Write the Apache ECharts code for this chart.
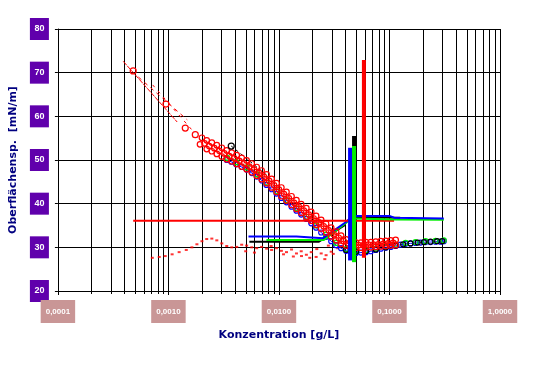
<!DOCTYPE html>
<html><head><meta charset="utf-8">
<script src="https://cdn.jsdelivr.net/npm/echarts@6/dist/echarts.min.js"></script>
<style>html,body{margin:0;padding:0;background:#fff}#c{width:534px;height:365px}</style>
</head><body><div id="c"></div>
<script>
// ---- data (concentration g/L, surface tension mN/m) ----
const xTickLabels = ['0,0001','0,0010','0,0100','0,1000','1,0000'];
const yTicks = [20,30,40,50,60,70,80];
const redEarly = [[0.00048,70.4],[0.00095,62.8],[0.00142,57.3],[0.00175,55.8]];
const redA = [[0.00201,55.1],[0.00222,54.5],[0.00247,54.0],[0.00274,53.4],[0.00304,52.8],[0.00337,52.2],[0.00374,51.7],[0.00415,51.1],[0.0046,50.5],[0.0051,49.9],[0.00567,49.2],[0.00629,48.4],[0.00697,47.6],[0.00774,46.7],[0.00858,45.7],[0.00952,44.7],[0.01052,43.7],[0.0117,42.7],[0.013,41.7],[0.0144,40.8],[0.0159,39.9],[0.0177,39.0],[0.0196,38.1],[0.0217,37.2],[0.0241,36.3],[0.0267,35.4],[0.0297,34.5],[0.0329,33.6],[0.0365,32.7],[0.0405,31.8],[0.0449,31.3],[0.0498,31.1],[0.0552,31.1],[0.0612,31.2],[0.0679,31.2],[0.0752,31.3],[0.0834,31.4],[0.0925,31.5],[0.1026,31.6],[0.1138,31.7]];
const redB = [[0.00193,53.6],[0.00222,52.5],[0.00247,52.0],[0.00274,51.4],[0.00304,50.8],[0.00337,50.2],[0.00374,49.7],[0.00415,49.1],[0.0046,48.5],[0.0051,47.9],[0.00567,47.2],[0.00629,46.4],[0.00697,45.6],[0.00774,44.7],[0.00858,43.7],[0.00952,42.7],[0.01052,41.7],[0.0117,40.7],[0.013,39.7],[0.0144,38.8],[0.0159,37.9],[0.0177,37.0],[0.0196,36.1],[0.0217,35.2],[0.0241,34.3],[0.0267,33.4],[0.0297,32.5],[0.0329,31.6],[0.0365,30.8],[0.0405,30.4],[0.0449,30.1],[0.0498,29.9],[0.0552,29.9],[0.0612,30.0],[0.0679,30.0],[0.0752,30.1],[0.0834,30.2],[0.0925,30.3],[0.1026,30.4],[0.1138,30.5]];
const redC = [[0.00212,53.8],[0.00234,53.2],[0.0026,52.7],[0.00289,52.1],[0.0032,51.5],[0.00355,50.9],[0.00394,50.4],[0.00437,49.8],[0.00485,49.2],[0.00538,48.5],[0.00597,47.8],[0.00662,47.0],[0.00735,46.1],[0.00815,45.2],[0.00904,44.2],[0.01,43.2],[0.0111,42.2],[0.0123,41.2],[0.0137,40.2],[0.0151,39.3],[0.0168,38.4],[0.0186,37.5],[0.0206,36.6],[0.0229,35.7],[0.0254,34.8],[0.0282,33.9],[0.0313,33.0],[0.0347,32.2],[0.0385,31.4],[0.0427,30.9],[0.0473,30.6],[0.0525,30.5],[0.0582,30.5],[0.0645,30.6],[0.0715,30.6],[0.0793,30.7],[0.088,30.8],[0.0975,30.9],[0.108,31.0]];
const blueCirc = [[0.00337,50.0],[0.0037,49.6],[0.0041,49.0],[0.0046,48.4],[0.0051,47.8],[0.0057,47.0],[0.0063,46.2],[0.007,45.3],[0.0077,44.3],[0.0086,43.3],[0.0095,42.3],[0.0105,41.3],[0.0117,40.3],[0.013,39.3],[0.0144,38.4],[0.0159,37.5],[0.0177,36.5],[0.0196,35.5],[0.0217,34.5],[0.0241,33.4],[0.0267,32.4],[0.0297,31.4],[0.0329,30.5],[0.0365,29.8],[0.0405,29.2],[0.0449,28.9],[0.0498,28.7],[0.0552,28.8],[0.0612,28.9],[0.0679,29.1],[0.0752,29.4],[0.0834,29.7],[0.0925,29.9],[0.1026,30.1],[0.1138,30.3],[0.126,30.6],[0.14,30.8],[0.155,30.9],[0.172,31.0],[0.191,31.1],[0.212,31.2],[0.235,31.2],[0.261,31.3],[0.29,31.3],[0.31,31.4]];
const greenCirc = [[0.0034,50.5],[0.0041,49.5],[0.0051,48.3],[0.0063,46.7],[0.0077,44.8],[0.0095,42.8],[0.0117,40.8],[0.0144,38.9],[0.0177,37.0],[0.0217,35.0],[0.0267,32.9],[0.0329,31.0],[0.0405,29.6],[0.0498,29.1],[0.0612,29.3],[0.0752,29.7],[0.0925,30.2],[0.1138,30.6],[0.14,31.0],[0.172,31.2],[0.212,31.4],[0.261,31.5],[0.31,31.6]];
const blackCirc = [[0.0405,29.4],[0.0498,29.0],[0.0612,29.1],[0.0752,29.5],[0.0925,30.0],[0.1138,30.4],[0.133,30.7],[0.155,30.9],[0.18,31.1],[0.205,31.2],[0.235,31.3],[0.27,31.4],[0.30,31.4]];
const redDots = [[0.000715,27.6],[0.000826,27.8],[0.000935,28.0],[0.00108,28.4],[0.00125,28.9],[0.00145,29.4],[0.00163,30.0],[0.00181,30.7],[0.00201,31.4],[0.00222,31.9],[0.00247,32.0],[0.00274,31.6],[0.00304,30.9],[0.00337,30.3],[0.00374,30.0],[0.00415,30.1],[0.0046,30.6],[0.0051,30.4],[0.00567,30.0],[0.00629,29.8],[0.00697,30.1],[0.00774,29.7],[0.00858,29.4],[0.00952,29.8],[0.01052,29.2],[0.0117,28.9],[0.013,29.5],[0.0144,28.6],[0.0159,29.1],[0.0177,28.3],[0.0196,28.9],[0.0217,27.8],[0.0241,28.6],[0.0267,28.2],[0.0297,29.0]];
const redDots2 = [[0.0050,29.1],[0.0060,28.8],[0.0085,30.3],[0.011,28.4],[0.0135,27.9],[0.016,28.0],[0.019,27.6],[0.022,29.6],[0.026,27.3],[0.028,30.4],[0.031,28.5],[0.034,29.8],[0.036,31.0],[0.038,32.3]];
const redDash1 = [[0.00039,72.6],[0.0012,58.7]];
const redDash2 = [[0.000535,69.0],[0.00148,59.2]];
const redDash3 = [[0.00072,67.2],[0.00163,56.9]];
const blackDash = [[0.0037,53.2],[0.0077,46.6]];
const blueLow = [[0.0053,32.5],[0.0144,32.5],[0.0146,32.1],[0.025,32.1],[0.0405,35.8],[0.0445,36.8]];
const greenLow = [[0.0077,31.7],[0.0255,31.7],[0.042,35.9],[0.047,36.8]];
const blackLow = [[0.0054,31.3],[0.023,31.3],[0.04,35.2]];
const blueUp = [[0.0445,37.2],[0.1,37.2],[0.11,36.8],[0.31,36.6]];
const greenUp = [[0.048,36.6],[0.11,36.4],[0.31,36.3]];
const blackUp = [[0.048,36.9],[0.125,36.8]];
const redHoriz = [[0.00048,36.1],[0.11,36.1]];
const barBlue = [[0.044,52.8],[0.044,27.0]];
const barBlack = [[0.0478,55.5],[0.0478,27.0]];
const barGreen = [[0.0478,53.2],[0.0478,26.6]];
const barRed = [[0.0587,72.9],[0.0587,27.6]];

// minor log grid positions (2..9 per decade)
const minorGrid = [];
for (let d = -4; d < 0; d++) for (let k = 2; k <= 9; k++) minorGrid.push([k * Math.pow(10, d), 50]);

const chart = echarts.init(document.getElementById('c'), null, {renderer: 'canvas'});
const RED = '#FF0000', BLUE = '#0000FF', GREEN = '#00EE00', BLACK = '#000000';
function ln(data, color, width, extra) {
  return Object.assign({type: 'line', data: data, showSymbol: false, symbol: 'none', silent: true,
    lineStyle: {color: color, width: width}, itemStyle: {color: color}, z: 5, animation: false}, extra || {});
}
function circ(data, color, size, z) {
  return {type: 'scatter', data: data, symbol: 'circle', symbolSize: size, silent: true,
    itemStyle: {color: 'rgba(255,255,255,0)', borderColor: color, borderWidth: 1.2, opacity: 1}, z: z, animation: false};
}
const option = {
  animation: false,
  backgroundColor: '#fff',
  grid: {left: 55, right: 34, top: 29, bottom: 74, containLabel: false},
  xAxis: {
    type: 'log', logBase: 10, min: 0.0001, max: 1,
    name: 'Konzentration [g/L]', nameLocation: 'middle', nameGap: 39,
    nameTextStyle: {color: '#000080', fontWeight: 'bold', fontSize: 11, fontFamily: 'DejaVu Sans'},
    axisLine: {show: true, lineStyle: {color: '#000', width: 1}},
    axisTick: {show: true, length: 4, lineStyle: {color: '#000'}},
    splitLine: {show: true, lineStyle: {color: '#000', width: 1}},
    axisLabel: {
      margin: 9, color: '#fff', fontSize: 8, fontWeight: 'bold', fontFamily: 'Liberation Sans',
      backgroundColor: '#C99696', padding: [6, 5], lineHeight: 11,
      formatter: function (v) {
        const idx = Math.round(Math.log10(v)) + 4;
        return xTickLabels[idx] !== undefined ? xTickLabels[idx] : '';
      }
    }
  },
  yAxis: {
    type: 'value', min: yTicks[0], max: yTicks[yTicks.length - 1], interval: 10,
    name: 'Oberflächensp.  [mN/m]', nameLocation: 'middle', nameGap: 34,
    nameTextStyle: {color: '#000080', fontWeight: 'bold', fontSize: 11, fontFamily: 'DejaVu Sans'},
    axisLine: {show: true, lineStyle: {color: '#000', width: 1}},
    axisTick: {show: true, length: 3, lineStyle: {color: '#000'}},
    splitLine: {show: true, lineStyle: {color: '#000', width: 1}},
    axisLabel: {
      margin: 9, color: '#fff', fontSize: 9, fontWeight: 'bold', fontFamily: 'Liberation Sans',
      backgroundColor: '#6000AC', padding: [6, 4.5], lineHeight: 10
    }
  },
  series: [
    {
      type: 'custom', data: minorGrid, silent: true, z: 1, clip: false, animation: false,
      encode: {x: 0, y: 1},
      renderItem: function (params, api) {
        const v = api.value(0);
        const top = api.coord([v, 80]);
        const bot = api.coord([v, 20]);
        const x = Math.round(top[0]) + 0.5;
        return {type: 'group', children: [
          {type: 'line', shape: {x1: x, y1: top[1], x2: x, y2: bot[1]}, style: {stroke: '#000', lineWidth: 1}},
          {type: 'line', shape: {x1: x, y1: bot[1], x2: x, y2: bot[1] + 3}, style: {stroke: '#000', lineWidth: 1}}
        ]};
      }
    },
    {type: 'scatter', data: redDots, symbol: 'rect', symbolSize: [3, 2], itemStyle: {color: RED}, silent: true, z: 3},
    {type: 'scatter', data: redDots2, symbol: 'rect', symbolSize: [3, 2], itemStyle: {color: RED}, silent: true, z: 3},
    ln(blackLow, BLACK, 2),
    ln(greenLow, GREEN, 2),
    ln(blueLow, BLUE, 2),
    ln(blueCirc, BLUE, 1, {z: 4}),
    circ(blueCirc, BLUE, 5, 4),
    circ(greenCirc, GREEN, 5, 4),
    circ(blackCirc, BLACK, 5, 4),
    circ(redB, RED, 5.5, 6),
    circ(redC, RED, 5.5, 6),
    circ(redA, RED, 5.5, 6),
    circ(redEarly, RED, 6, 6),
    ln(redDash1, RED, 1, {lineStyle: {color: RED, width: 1, type: [5, 1]}}),
    ln(redDash2, RED, 1, {lineStyle: {color: RED, width: 1, type: [4, 4]}}),
    ln(redDash3, RED, 1, {lineStyle: {color: RED, width: 1, type: [3, 5]}}),
    ln(blackDash, BLACK, 1, {lineStyle: {color: BLACK, width: 1, type: [3, 3]}}),
    circ([blackDash[0]], BLACK, 6, 6),
    ln(redHoriz, RED, 2, {z: 7}),
    ln(blackUp, BLACK, 2, {z: 7}),
    ln(greenUp, GREEN, 2, {z: 7}),
    ln(blueUp, BLUE, 2, {z: 7}),
    ln(barBlack, BLACK, 4, {z: 8}),
    ln(barBlue, BLUE, 4, {z: 8}),
    ln(barGreen, GREEN, 4, {z: 8}),
    ln(barRed, RED, 4, {z: 9})
  ]
};
chart.setOption(option);
</script>
</body></html>
